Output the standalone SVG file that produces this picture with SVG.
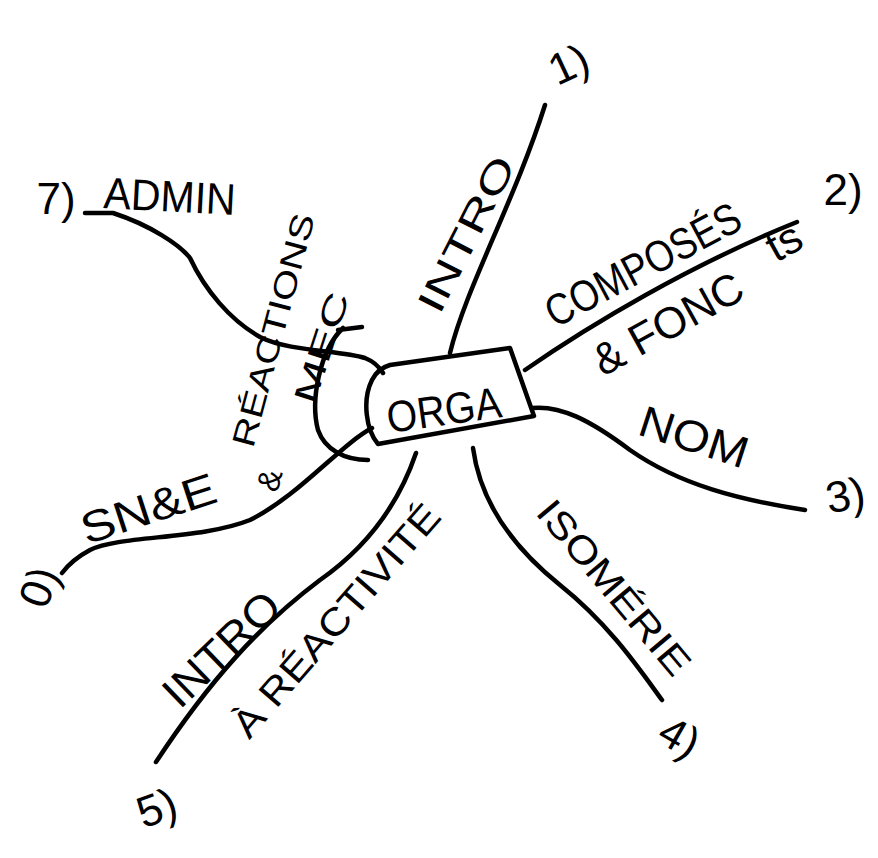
<svg xmlns="http://www.w3.org/2000/svg" width="878" height="858" viewBox="0 0 878 858">
<style>
.ln{fill:none;stroke:#000;stroke-width:4.5;stroke-linecap:round;stroke-linejoin:round}
.t{font-family:"Liberation Sans","DejaVu Sans",sans-serif;fill:#000;font-size:44px}
.s{font-size:38px}
.xs{font-size:32px}
</style>
<rect width="878" height="858" fill="#fff"/>
<g id="connectors">
<path class="ln" d="M450,353 C465,290 515,200 545,105"/>
<path class="ln" d="M525,370 C590,325 690,265 797,222"/>
<path class="ln" d="M532,408 C560,405 590,420 630,450 C680,485 740,500 805,510"/>
<path class="ln" d="M473,448 C480,500 510,545 560,585 C610,625 640,670 662,700"/>
<path class="ln" d="M416,453 C400,500 370,545 320,580 C260,625 210,680 156,762"/>
<path class="ln" d="M372,428 C340,445 300,495 250,520 C200,540 120,535 90,550 C75,558 68,565 62,573"/>
<path class="ln" d="M85,213 L113,213 C150,225 180,245 190,258 C205,290 230,320 260,337 C290,352 340,350 365,358 C375,362 380,368 383,373"/>
<path class="ln" d="M338,330 L362,327 M343,328 C320,350 310,400 318,430 C325,450 345,460 368,460"/>
</g>
<g id="orga">
<path class="ln" d="M390,365 L510,348 L534,416 L378,444 C366,430 362,400 372,380 C376,372 383,367 390,365 Z"/>
<text class="t" transform="translate(446,425) rotate(-8)" text-anchor="middle" textLength="115" lengthAdjust="spacingAndGlyphs">ORGA</text>
</g>
<g id="n1-intro">
<text class="t" transform="translate(575,78) rotate(-25)" text-anchor="middle">1)</text>
<text class="t s" transform="translate(478,240) rotate(-63)" text-anchor="middle" textLength="170" lengthAdjust="spacingAndGlyphs">INTRO</text>
</g>
<g id="n2-composes">
<text class="t" transform="translate(843,205)" text-anchor="middle">2)</text>
<text class="t" transform="translate(650,278) rotate(-28)" text-anchor="middle" textLength="215" lengthAdjust="spacingAndGlyphs">COMPOSÉS</text>
<text class="t" transform="translate(603,377) rotate(-29)" textLength="165" lengthAdjust="spacingAndGlyphs">&amp; FONC</text>
<text class="t" transform="translate(776,263) rotate(-29)" font-size="22">ts</text>
</g>
<g id="n3-nom">
<text class="t" transform="translate(848,510) rotate(-10)" text-anchor="middle">3)</text>
<text class="t" transform="translate(636,434) rotate(18)" textLength="112" lengthAdjust="spacingAndGlyphs">NOM</text>
</g>
<g id="n4-isomerie">
<text class="t" transform="translate(672,750) rotate(30)" text-anchor="middle">4)</text>
<text class="t s" transform="translate(604,596) rotate(50)" text-anchor="middle" textLength="216" lengthAdjust="spacingAndGlyphs">ISOMÉRIE</text>
</g>
<g id="n5-reactivite">
<text class="t" transform="translate(162,822) rotate(-20)" text-anchor="middle">5)</text>
<text class="t" transform="translate(232,660) rotate(-44)" text-anchor="middle" textLength="145" lengthAdjust="spacingAndGlyphs">INTRO</text>
<text class="t s" transform="translate(346,629) rotate(-49)" text-anchor="middle" textLength="295" lengthAdjust="spacingAndGlyphs">À RÉACTIVITÉ</text>
</g>
<g id="n0-structure">
<text class="t" transform="translate(53,592) rotate(-70)" text-anchor="middle">0)</text>
<text class="t" transform="translate(153,523) rotate(-18)" text-anchor="middle" textLength="140" lengthAdjust="spacingAndGlyphs">SN&amp;E</text>
<text class="t xs" transform="translate(280,483) rotate(-75)" text-anchor="middle">&amp;</text>
<text class="t xs" transform="translate(284,333) rotate(-75)" text-anchor="middle" textLength="240" lengthAdjust="spacingAndGlyphs">RÉACTIONS</text>
<text class="t xs" transform="translate(332,351) rotate(-72)" text-anchor="middle" textLength="115" lengthAdjust="spacingAndGlyphs">MEC</text>
</g>
<g id="n7-admin">
<text class="t" transform="translate(56,214)" text-anchor="middle">7)</text>
<text class="t" transform="translate(103,208) rotate(3)" textLength="132" lengthAdjust="spacingAndGlyphs">ADMIN</text>
</g>
</svg>
